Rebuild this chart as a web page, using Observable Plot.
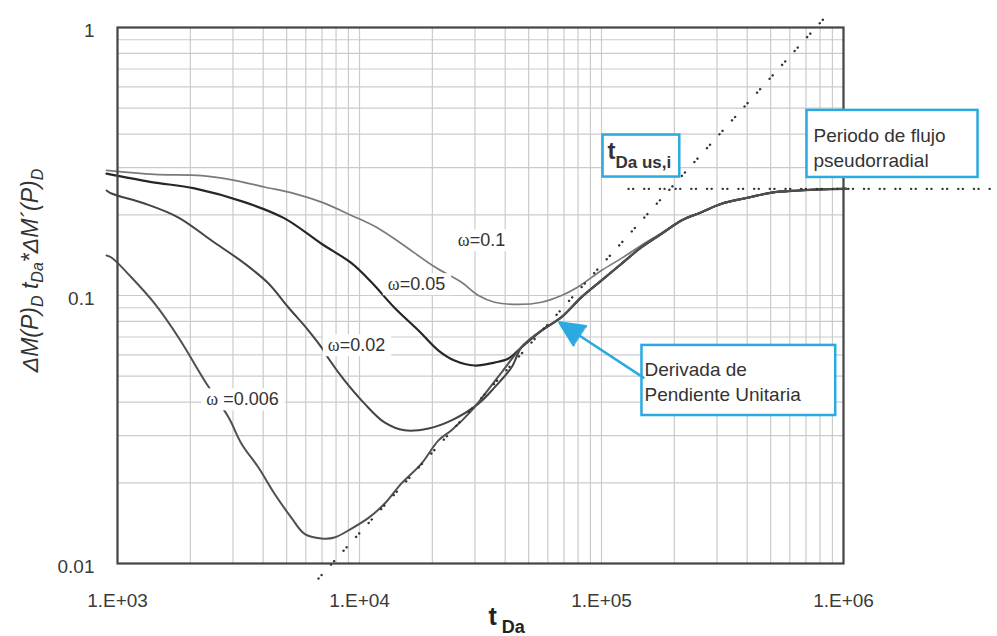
<!DOCTYPE html>
<html><head><meta charset="utf-8">
<script src="https://cdn.jsdelivr.net/npm/d3@7"></script>
<script src="https://cdn.jsdelivr.net/npm/@observablehq/plot@0.6"></script>
<style>
body{margin:0;background:#fff;}
#chart svg{display:block;}
</style>
</head><body><div id="chart"></div>
<script>
// ---- axis ticks ----
const xTicks = [1e3, 1e4, 1e5, 1e6];
const yTicks = [0.01, 0.1, 1];
const xGrid = [1e3,2e3,3e3,4e3,5e3,6e3,7e3,8e3,9e3,1e4,2e4,3e4,4e4,5e4,6e4,7e4,8e4,9e4,1e5,2e5,3e5,4e5,5e5,6e5,7e5,8e5,9e5,1e6];
const yGrid = [0.01,0.02,0.03,0.04,0.05,0.06,0.07,0.08,0.09,0.1,0.2,0.3,0.4,0.5,0.6,0.7,0.8,0.9,1];

// ---- series ----
const seriesNames = ["ω=0.1", "ω=0.05", "ω=0.02", "ω=0.006"];
const omega01T = [901,1422,2224,3045,4050,5387,6966,9267,11982,14915,20413,26394,31020,36141,45394,56510,68340,79590,100000,120900,146300,177000,214100,259000,313300,405000,504000,651700,811300,1029000];
const omega01Y = [0.293,0.283,0.280,0.269,0.254,0.240,0.223,0.199,0.178,0.156,0.128,0.112,0.100,0.0944,0.0926,0.0944,0.100,0.1074,0.124,0.1376,0.154,0.171,0.1905,0.2046,0.220,0.232,0.242,0.2465,0.249,0.25];
const omega005T = [901,1382,2081,3348,4899,6966,9267,11209,13952,17531,21204,24693,29877,36141,41278,46711,56510,68340,82671,100000,120900,146300,177000,214100,259000,313300,405000,504000,651700,811300,1029000];
const omega005Y = [0.285,0.265,0.251,0.223,0.194,0.156,0.132,0.112,0.090,0.074,0.0623,0.0572,0.0548,0.0562,0.0582,0.0641,0.0740,0.0830,0.0986,0.1138,0.1313,0.1514,0.1699,0.1905,0.2046,0.220,0.232,0.242,0.2465,0.249,0.25];
const omega002T = [901,944,1293,1787,2446,3348,4207,5088,6155,6966,7446,8670,10488,12687,15346,19283,23997,31020,36141,42472,46711,56510,68340,82671,100000,120900,146300,177000,214100,259000,313300,405000,504000,651700,811300,1029000];
const omega002Y = [0.2465,0.2402,0.2204,0.1954,0.1604,0.1317,0.1109,0.0902,0.0740,0.0640,0.0582,0.0482,0.0395,0.0336,0.0314,0.0319,0.0342,0.0395,0.0454,0.0539,0.0641,0.0740,0.0830,0.0986,0.1138,0.1313,0.1514,0.1699,0.1905,0.2046,0.220,0.232,0.242,0.2465,0.249,0.25];
const omega0006T = [901,944,1143,1422,1787,2288,2876,3253,3824,4455,5236,5925,6966,7882,9267,10894,12687,14915,18040,21204,23997,29030,35120,38630,46711,56510,68340,82671,100000,120900,146300,177000,214100,259000,313300,405000,504000,651700,811300,1029000];
const omega0006Y = [0.141,0.1386,0.1167,0.0934,0.0697,0.0482,0.0351,0.0280,0.0228,0.0182,0.0148,0.0129,0.0124,0.0125,0.0135,0.0148,0.0167,0.0199,0.0236,0.0288,0.0314,0.0372,0.0462,0.0516,0.0641,0.0740,0.0830,0.0986,0.1138,0.1313,0.1514,0.1699,0.1905,0.2046,0.220,0.232,0.242,0.2465,0.249,0.25];

// reference lines
const unitSlopeT = [6769, 867000];
const unitSlopeY = [0.00879, 1.128];
const radialT = [129300, 4090000];
const radialY = [0.25, 0.25];

// labels
const omegaLabelT = [31930, 17200, 9719, 3285];
const omegaLabelY = [0.1604, 0.110, 0.0651, 0.0409];
const omegaLabelText = ["ω=0.1", "ω=0.05", "ω=0.02", "ω =0.006"];

const annT = [105900, 751600, 150500];
const annY = [0.3475, 0.360, 0.0482];
const annText = ["tDa us,i", "Periodo de flujo\npseudorradial", "Derivada de\nPendiente Unitaria"];

const arrowT = [149100, 67060];
const arrowY = [0.0494, 0.0793];

const xTitle = "t Da";
const yTitle = "ΔM(P)D tDa*ΔM´(P)D";

// ---- tables ----
const seriesT = [omega01T, omega005T, omega002T, omega0006T];
const seriesY = [omega01Y, omega005Y, omega002Y, omega0006Y];
const rows = seriesNames.flatMap((n, i) => seriesT[i].map((t, j) => ({series: n, t, v: seriesY[i][j]})));
const seriesColor = ["#7a7a7a", "#262626", "#444444", "#505050"];
const seriesWidth = [1.7, 2.2, 2, 2];
const unitRows = unitSlopeT.map((t, i) => ({t, v: unitSlopeY[i]}));
const radialRows = radialT.map((t, i) => ({t, v: radialY[i]}));
const omegaLabels = omegaLabelT.map((t, i) => ({t, v: omegaLabelY[i], text: omegaLabelText[i]}));
const annRows = annT.map((t, i) => ({t, v: annY[i], text: annText[i]}));
const arrowRows = [{x1: arrowT[0], y1: arrowY[0], x2: arrowT[1], y2: arrowY[1]}];

const BLUE = "#2aaae0";

const plot = Plot.plot({
  width: 997,
  height: 636,
  marginLeft: 117,
  marginRight: 154,
  marginTop: 27,
  marginBottom: 73,
  style: {fontFamily: "'Liberation Sans', Arial, sans-serif", color: "#3a3a3a", background: "#fff"},
  x: {type: "log", domain: [1e3, 1e6]},
  y: {type: "log", domain: [0.01, 1]},
  marks: [
    Plot.ruleX(xGrid, {stroke: "#cbcbcb", strokeWidth: 1.2}),
    Plot.ruleY(yGrid, {stroke: "#cbcbcb", strokeWidth: 1.2}),
    ...seriesNames.map((n, i) => Plot.line(rows.filter(d => d.series === n), {
      x: "t", y: "v", stroke: seriesColor[i], strokeWidth: seriesWidth[i], curve: "catmull-rom"
    })),
    Plot.line(unitRows, {x: "t", y: "v", stroke: "#333", strokeWidth: 2.4, strokeLinecap: "round", strokeDasharray: "0.1,4.5,0.1,14"}),
    Plot.line(radialRows, {x: "t", y: "v", stroke: "#333", strokeWidth: 2.4, strokeLinecap: "round", strokeDasharray: "0.1,4.5,0.1,11"}),
    Plot.frame({stroke: "#444", strokeWidth: 2.2}),
    Plot.text(omegaLabels, {x: "t", y: "v", text: "text", fontSize: 18, fill: "#333", ariaDescription: "omega-labels"}),
    Plot.text(annRows, {x: "t", y: "v", text: "text", fontSize: 19, fill: "#333", textAnchor: "start", lineHeight: 1.32, ariaDescription: "ann-labels"}),
    Plot.arrow(arrowRows, {x1: "x1", y1: "y1", x2: "x2", y2: "y2", stroke: BLUE, strokeWidth: 2.5, headLength: 16, headAngle: 50, ariaDescription: "ann-arrow"}),
    Plot.axisX({ticks: xTicks, tickFormat: d => "1.E+0" + Math.round(Math.log10(d)), tickSize: 0, tickPadding: 30, fontSize: 19}),
    Plot.axisY({ticks: yTicks, tickFormat: d => String(d), tickSize: 0, tickPadding: 23, dy: 3, fontSize: 19}),
    Plot.text([xTitle], {frameAnchor: "bottom", textAnchor: "start", dx: 8, dy: 61, fontSize: 24, fill: "#222", fontWeight: "bold", ariaDescription: "x-title"}),
    Plot.text([yTitle], {frameAnchor: "left", rotate: -90, textAnchor: "middle", dx: -87, dy: -25, fontSize: 23, fill: "#333", fontStyle: "italic", ariaDescription: "y-title"})
  ]
});
document.getElementById("chart").appendChild(plot);

// ---- post-processing: rich text and label boxes ----
const NS = "http://www.w3.org/2000/svg";
const svg = d3.select(plot);
function addBox(el, pad, fill, stroke, sw) {
  const bb = el.getBBox();
  const r = document.createElementNS(NS, "rect");
  r.setAttribute("x", bb.x - pad[0]);
  r.setAttribute("y", bb.y - pad[2]);
  r.setAttribute("width", bb.width + pad[0] + pad[1]);
  r.setAttribute("height", bb.height + pad[2] + pad[3]);
  r.setAttribute("fill", fill);
  r.setAttribute("stroke", stroke || "none");
  if (stroke) r.setAttribute("stroke-width", sw);
  const tr = el.getAttribute("transform");
  if (tr) r.setAttribute("transform", tr);
  el.parentNode.insertBefore(r, el);
}
svg.selectAll('g[aria-description="omega-labels"] text').each(function() {
  const txt = this.textContent;
  const rest = txt.replace("ω", "");
  this.innerHTML = `<tspan font-family="'Liberation Serif', serif" font-size="18">ω</tspan>${rest}`;
  addBox(this, [5, 6, 1, 1], "#fff");
});
svg.selectAll('g[aria-description="ann-labels"] text').each(function(_, i) {
  if (i === 0) {
    this.innerHTML = `<tspan font-size="24" font-weight="bold">t</tspan><tspan font-size="17" font-weight="bold" dy="9">Da us,i</tspan>`;
    addBox(this, [5, 8, 2, 5], "#fff", BLUE, 2.5);
  } else if (i === 1) {
    addBox(this, [7, 32, 15, 6], "#fff", BLUE, 2.5);
  } else {
    addBox(this, [3, 34, 14, 10], "#fff", BLUE, 2.5);
  }
});
svg.selectAll('g[aria-description="ann-arrow"] path').each(function() {
  const d = this.getAttribute("d");
  const k = d.lastIndexOf("M");
  if (k > 0) {
    const head = document.createElementNS(NS, "path");
    head.setAttribute("d", d.slice(k) + "Z");
    head.setAttribute("fill", BLUE);
    head.setAttribute("stroke", BLUE);
    head.setAttribute("stroke-width", 1);
    this.parentNode.appendChild(head);
  }
});
svg.selectAll('g[aria-description="x-title"] text').each(function() {
  this.innerHTML = `<tspan font-size="25">t</tspan><tspan font-size="18" dx="5" dy="8">Da</tspan>`;
});
svg.selectAll('g[aria-description="y-title"] text').each(function() {
  this.innerHTML = `ΔM(P)<tspan font-size="16" dy="5">D</tspan><tspan dy="-5"> t</tspan><tspan font-size="16" dy="5">Da</tspan><tspan dy="-5">*ΔM´(P)</tspan><tspan font-size="16" dy="5">D</tspan>`;
});
</script>
</body></html>
